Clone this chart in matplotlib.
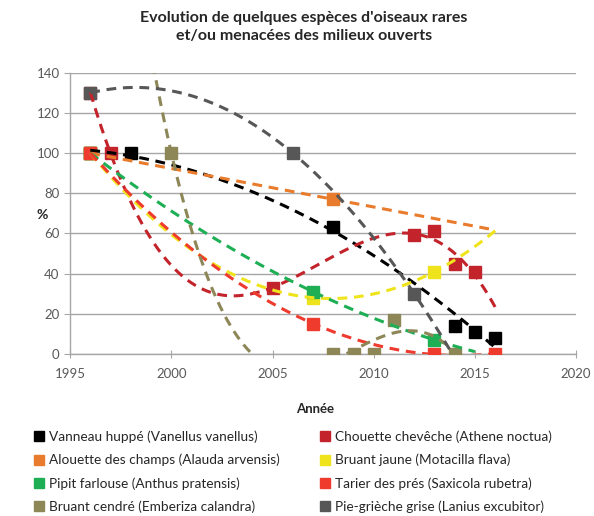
import numpy as np
import matplotlib
matplotlib.use("Agg")
import matplotlib.pyplot as plt
from matplotlib.lines import Line2D

plt.rcParams['font.family'] = ['Lato', 'DejaVu Sans']

title = "Evolution de quelques espèces d'oiseaux rares\net/ou menacées des milieux ouverts"

names = [
    "Vanneau huppé (Vanellus vanellus)",
    "Chouette chevêche (Athene noctua)",
    "Alouette des champs (Alauda arvensis)",
    "Bruant jaune (Motacilla flava)",
    "Pipit farlouse (Anthus pratensis)",
    "Tarier des prés (Saxicola rubetra)",
    "Bruant cendré (Emberiza calandra)",
    "Pie-grièche grise (Lanius excubitor)",
]

vanneau_x = [1996, 1998, 2008, 2014, 2015, 2016]
vanneau_y = [100, 100, 63, 14, 11, 8]
chouette_x = [1996, 1997, 2005, 2012, 2013, 2014, 2015]
chouette_y = [130, 100, 33, 59, 61, 45, 41]
alouette_x = [1996, 2008]
alouette_y = [100, 77]
jaune_x = [1996, 2007, 2013]
jaune_y = [100, 28, 41]
pipit_x = [1996, 2007, 2013]
pipit_y = [100, 31, 7]
tarier_x = [1996, 2007, 2013, 2016]
tarier_y = [100, 15, 0, 0]
cendre_x = [2000, 2008, 2009, 2010, 2011, 2014]
cendre_y = [100, 0, 0, 0, 17, 0]
pie_x = [1996, 2006, 2012]
pie_y = [130, 100, 30]

series_x = [vanneau_x, chouette_x, alouette_x, jaune_x, pipit_x, tarier_x, cendre_x, pie_x]
series_y = [vanneau_y, chouette_y, alouette_y, jaune_y, pipit_y, tarier_y, cendre_y, pie_y]
colors = ["#000000", "#C3242C", "#E97B2C", "#EFE41C", "#1EAF55", "#EE3B2E", "#8D8758", "#575757"]
# trendline polynomial order and span
orders = [2, 4, 1, 2, 2, 2, 3, 2]
spans = [(1996, 2016), (1996, 2016), (1996, 2016), (1996, 2016), (1996, 2015),
         (1996, 2016), (1998.5, 2015), (1996, 2014)]

fig = plt.figure(figsize=(5.94, 5.16), dpi=100)
ax = fig.add_axes([0.118, 0.314, 0.852, 0.545])

grid_c = "#A6A6A6"
txt_c = "#595959"

for i in range(8):
    ax.plot(series_x[i], series_y[i], linestyle='none', marker='s', markersize=9,
            color=colors[i], zorder=3 + i * 0.01)

for i in range(8):
    x = np.array(series_x[i], dtype=float)
    y = np.array(series_y[i], dtype=float)
    coef = np.polyfit(x - 2000, y, orders[i])
    xs = np.linspace(spans[i][0], spans[i][1], 300)
    ys = np.polyval(coef, xs - 2000)
    ax.plot(xs, ys, linestyle=(0, (3.2, 2.2)), linewidth=2.2, color=colors[i],
            zorder=5 + i * 0.01)

ax.set_xlim(1995, 2020)
ax.set_ylim(0, 140)
ax.set_xticks(range(1995, 2021, 5))
ax.set_yticks(range(0, 141, 20))
ax.yaxis.grid(True, color=grid_c, linewidth=1.0)
ax.set_axisbelow(True)
for s in ['top', 'right']:
    ax.spines[s].set_visible(False)
for s in ['left', 'bottom']:
    ax.spines[s].set_color(grid_c)
    ax.spines[s].set_linewidth(1.0)
ax.tick_params(axis='both', colors=grid_c, labelcolor=txt_c, labelsize=9.5, length=4)
ax.tick_params(axis='x', direction='inout', length=6, pad=7)

fig.text(0.512, 0.978, title, ha='center', va='top', fontsize=11.5, fontweight='bold',
         color='#262626', linespacing=1.35)
fig.text(0.071, 0.583, "%", ha='center', va='center', fontsize=10, fontweight='bold', color='#262626')
fig.text(0.530, 0.207, "Année", ha='center', va='center', fontsize=9.5, fontweight='bold', color='#262626')

handles = [Line2D([], [], linestyle='none', marker='s', markersize=7, color=c) for c in colors]
order = [0, 2, 4, 6, 1, 3, 5, 7]
fig.legend([handles[k] for k in order], [names[k] for k in order], ncol=2,
           loc='upper left', bbox_to_anchor=(0.058, 0.166), frameon=False,
           fontsize=9.8, handlelength=0.7, handletextpad=0.35, columnspacing=3.0,
           labelspacing=0.8, borderaxespad=0, borderpad=0)
for t in fig.legends[0].get_texts():
    t.set_color('#262626')

fig.savefig("out.png", dpi=100)
